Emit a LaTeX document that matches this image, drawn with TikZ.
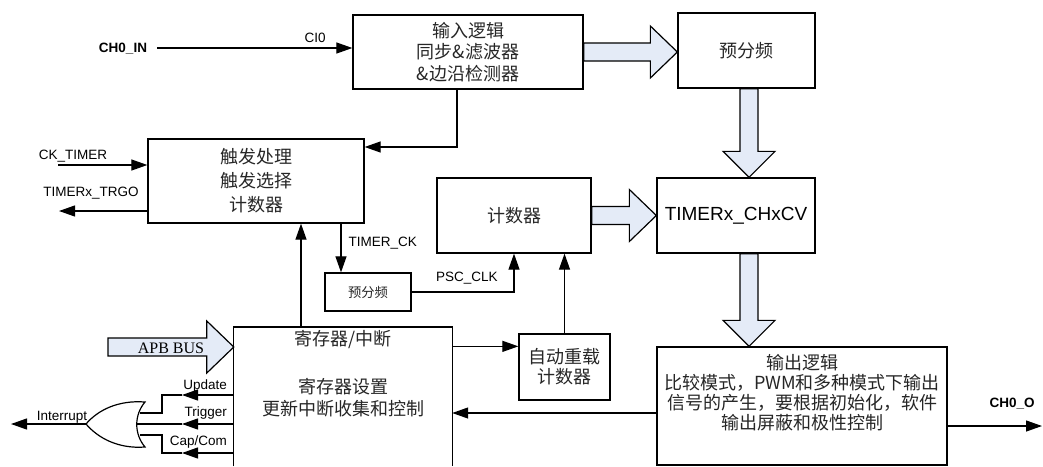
\documentclass[tikz,border=0pt]{standalone}
\usepackage{fontspec}
\setmainfont{Liberation Sans}
\newfontfamily\cjkfont{Noto Sans CJK SC}
\newfontfamily\timesfont{Liberation Serif}
\usetikzlibrary{positioning,arrows.meta,calc}
\definecolor{fatfill}{RGB}{228,235,247}

\begin{document}
\begin{tikzpicture}[
  x=1pt, y=-1pt,
  >={Triangle[length=16pt,width=11pt]},
  font=\fontsize{13.5}{16}\selectfont,
  box/.style={rectangle, draw=black, line width=1.3pt, inner sep=2pt, align=center,
    font=\cjkfont\fontsize{18}{21.7}\selectfont, text=black!85},
  cjktxt/.style={inner sep=0pt, align=center, font=\cjkfont\fontsize{18}{20}\selectfont, text=black!85},
  lbl/.style={inner sep=0pt, font=\fontsize{13.5}{16}\selectfont},
  pin/.style={inner sep=0pt, font=\bfseries\fontsize{13.5}{16}\selectfont},
  sig/.style={->, line width=1.2pt},
  wire/.style={line width=1.2pt},
  fatright/.style={draw=black, fill=fatfill, line width=1.2pt,
    to path={($(\tikztostart)+(0,-9)$) -- ($(\tikztotarget |- \tikztostart)+(-27,-9)$)
      -- ($(\tikztotarget |- \tikztostart)+(-27,-26)$) -- (\tikztotarget |- \tikztostart)
      -- ($(\tikztotarget |- \tikztostart)+(-27,26)$) -- ($(\tikztotarget |- \tikztostart)+(-27,9)$)
      -- ($(\tikztostart)+(0,9)$) -- cycle}},
  fatdown/.style={draw=black, fill=fatfill, line width=1.2pt,
    to path={($(\tikztostart)+(-9,0)$) -- ($(\tikztostart |- \tikztotarget)+(-9,-26)$)
      -- ($(\tikztostart |- \tikztotarget)+(-26,-26)$) -- (\tikztostart |- \tikztotarget)
      -- ($(\tikztostart |- \tikztotarget)+(26,-26)$) -- ($(\tikztostart |- \tikztotarget)+(9,-26)$)
      -- ($(\tikztostart)+(9,0)$) -- cycle}},
]
\useasboundingbox (0,0) rectangle (1043,466);

% blocks
\node[box, minimum width=230, minimum height=74] (inlogic) at (468,52) {输入逻辑\\同步\&滤波器\\\&边沿检测器};
\node[box, minimum width=137, minimum height=75] (psc) at (746.5,50.5) {预分频};
\node[box, minimum width=158, minimum height=75, font=\fontsize{19}{22}\selectfont, text=black] (cv) at (736,215.5) {TIMERx\_CHxCV};
\node[box, minimum width=154, minimum height=75] (cnt) at (514,215.5) {计数器};
\node[box, minimum width=216, minimum height=84, font=\cjkfont\fontsize{18}{24}\selectfont] (trig) at (256,181) {触发处理\\触发选择\\计数器};
\node[box, minimum width=86, minimum height=38, font=\cjkfont\fontsize{13.3}{16}\selectfont] (spsc) at (368,292) {预分频};
\node[box, minimum width=91, minimum height=66, font=\cjkfont\fontsize{18}{20}\selectfont] (arr) at (564.5,367) {自动重载\\计数器};
\node[box, minimum width=290, minimum height=118] (outlogic) at (802,406) {};
\node[cjktxt] (outtxt) at (802,393) {输出逻辑\\比较模式，PWM和多种模式下输出\\信号的产生，要根据初始化，软件\\输出屏蔽和极性控制};

% register block, open at the bottom
\node[minimum width=218, minimum height=139, inner sep=0pt, anchor=north] (reg) at (343,327) {};
\draw[line width=1.3pt] (reg.south west) -- (reg.north west) -- (reg.north east) -- (reg.south east);
\node[cjktxt, anchor=north, font=\cjkfont\fontsize{18}{22}\selectfont] (regtxt) at (343,330) {寄存器/中断\\[26pt]寄存器设置\\更新中断收集和控制};

% wide arrows
\coordinate (fatx) at (749,0);
\coordinate (pscout) at (psc.south -| fatx);
\coordinate (cvout) at (cv.south -| fatx);
\draw[fatright] (inlogic.east) to (psc.west);
\draw[fatdown] (pscout) to (cv.north);
\draw[fatright] (cnt.east) to (cv.west);
\draw[fatdown] (cvout) to (outlogic.north);
\coordinate (apbin) at (108,347);
\draw[fatright] (apbin) to (reg.west);
\node[inner sep=0pt, font=\timesfont\fontsize{16}{18}\selectfont] (apb) at (171,348) {APB BUS};

% input side
\node[pin] (chin) at (123,49) {CH0\_IN};
\coordinate (chinst) at (157,48);
\draw[sig] (chinst) -- (chinst -| inlogic.west) node[lbl, above=5pt, pos=0.81] {CI0};
\coordinate (ckin) at (58,165);
\draw[sig] (ckin) -- (ckin -| trig.west);
\node[lbl] (cklbl) at (73,156) {CK\_TIMER};
\coordinate (trgo) at (59,211);
\draw[sig] (trgo -| trig.west) -- (trgo);
\node[lbl] (trgolbl) at (91,193) {TIMERx\_TRGO};

% clock path
\coordinate (ilx) at (457,147);
\draw[sig] (inlogic.south -| ilx) |- (ilx -| trig.east);
\coordinate (upx) at (301,0);
\draw[sig] (reg.north -| upx) -- (trig.south -| upx);
\coordinate (dnx) at (341,0);
\draw[sig] (trig.south -| dnx) -- (spsc.north -| dnx) node[lbl, right=7pt, pos=0.4] {TIMER\_CK};
\draw[sig] (spsc.east) -| (cnt.south) node[lbl, above=7pt, pos=0.27] {PSC\_CLK};
\draw[sig] (arr.north) -- (arr.north |- cnt.south);
\coordinate (arrin) at ($(arr.north west)+(0,13)$);
\draw[sig] (arrin -| reg.east) -- (arrin);
\coordinate (fbk) at ($(outlogic.west)+(0,7)$);
\draw[sig] (fbk) -- (fbk -| reg.east);

% output
\coordinate (chout) at (1042,426);
\draw[sig] (chout -| outlogic.east) -- (chout);
\node[pin] (choutlbl) at (1012,404) {CH0\_O};

% interrupt OR gate
\coordinate (gtop) at (145,402);
\coordinate (gbot) at (145,447);
\coordinate (gout) at (86,424);
\coordinate (gin1) at (140,413);
\coordinate (gin2) at (137,424);
\coordinate (gin3) at (140,435);
\draw[wire] (gtop) .. controls (118,400) and (98,410) .. (gout)
  .. controls (98,438) and (118,449) .. (gbot)
  .. controls (134,434) and (134,415) .. cycle;
\coordinate (intr) at (11,424);
\draw[sig] (gout) -- (intr);
\node[lbl] (intlbl) at (62,417) {Interrupt};

\coordinate (upd) at (182,395);
\coordinate (trg) at (182,424);
\coordinate (cpc) at (182,453);
\draw[sig] (upd -| reg.west) -- (upd);
\draw[wire] (upd) -- ++(-20,0) |- (gin1);
\draw[sig] (trg -| reg.west) -- (trg);
\draw[wire] (trg) -- (gin2);
\draw[sig] (cpc -| reg.west) -- (cpc);
\draw[wire] (cpc) -- ++(-20,0) |- (gin3);
\node[lbl, anchor=east] (updlbl) at (227,386) {Update};
\node[lbl, anchor=east] (trglbl) at (227,413) {Trigger};
\node[lbl, anchor=east] (cpclbl) at (227,442) {Cap/Com};
\end{tikzpicture}
\end{document}
